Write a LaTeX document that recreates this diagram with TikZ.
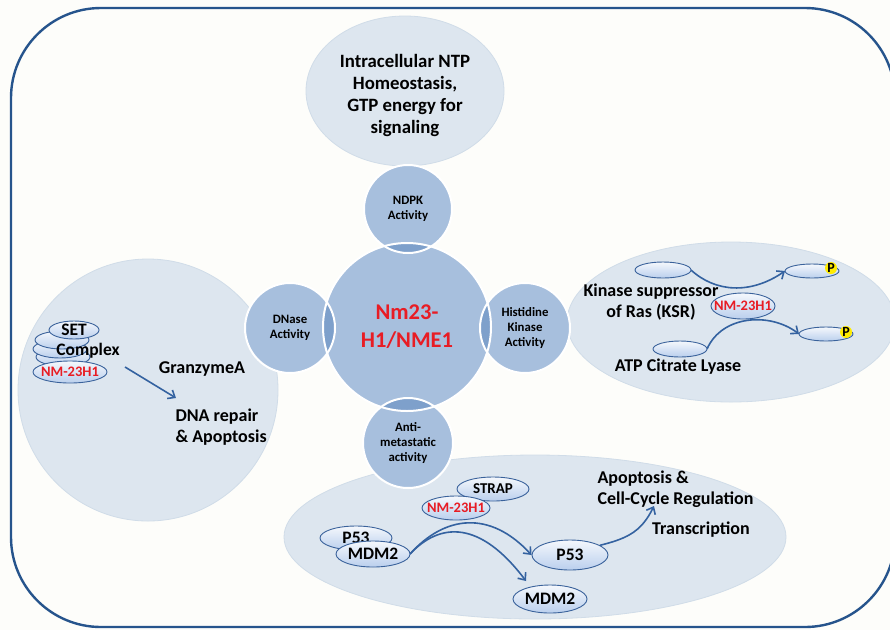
\documentclass[tikz,border=0pt]{standalone}
\usepackage{fontspec}
\setmainfont{Carlito}
\usetikzlibrary{shapes.geometric,arrows.meta}
\definecolor{bgc}{RGB}{253,253,250}
\definecolor{framec}{RGB}{38,84,140}
\definecolor{bigfill}{RGB}{221,230,239}
\definecolor{bigedge}{RGB}{208,220,232}
\definecolor{circfill}{RGB}{167,191,221}
\definecolor{lensc}{RGB}{126,160,203}
\definecolor{molfill}{RGB}{186,207,237}
\definecolor{moledge}{RGB}{58,98,155}
\definecolor{arrowc}{RGB}{52,98,160}
\definecolor{redtxt}{RGB}{232,28,36}
\definecolor{pyellow}{RGB}{255,236,0}
\begin{document}
\begin{tikzpicture}[x=1pt,y=-1pt,
  bigell/.style={fill=bigfill,draw=bigedge,line width=0.8pt},
  act/.style={circle,fill=circfill,inner sep=0pt,align=center,
     font=\bfseries\fontsize{12.8}{15}\selectfont},
  mol/.style={ellipse,draw=moledge,line width=0.9pt,top color=white!85!molfill,bottom color=molfill,inner sep=0pt},
  moltxt/.style={font=\bfseries\fontsize{17.5}{17.5}\selectfont},
  nmtxt/.style={font=\bfseries\fontsize{14.5}{14.5}\selectfont,text=redtxt},
  lbl/.style={font=\bfseries\fontsize{18}{21}\selectfont,align=center},
  conn/.style={draw=arrowc,line width=1.6pt,-{Straight Barb[length=6pt,width=10pt]}},
  pcirc/.style={circle,fill=pyellow,inner sep=0pt,minimum size=12pt,
     font=\bfseries\fontsize{14}{14}\selectfont}]
\useasboundingbox (0,0) rectangle (890,630);
\fill[bgc] (0,0) rectangle (890,630);
\draw[framec,line width=2.4pt,rounded corners=90pt] (11,8) rectangle (895,627);

% big ellipses
\fill[bigell] (405,91) ellipse [x radius=99,y radius=75];
\fill[bigell] (148,390) ellipse [x radius=130,y radius=131];
\fill[bigell] (731,322) ellipse [x radius=164,y radius=80];
\fill[bigell] (535,537) ellipse [x radius=251,y radius=82];

\node[lbl,font=\bfseries\fontsize{18.8}{22}\selectfont] (ntp) at (405,95)
  {Intracellular NTP\\Homeostasis,\\GTP energy for\\signaling};

% central circles
\node[circle,fill=circfill,minimum size=168pt,inner sep=0pt,align=center,
  text=redtxt,font=\bfseries\fontsize{22.5}{28}\selectfont] (core) at (407,327) {Nm23-\\H1/NME1};
\node[act,minimum size=88pt] (ndpk) at (408,209) {NDPK\\Activity};
\node[act,minimum size=90pt] (dnase) at (290,328) {DNase\\Activity};
\node[act,minimum size=90pt] (hist) at (525,328) {Histidine\\Kinase\\Activity};
\node[act,minimum size=90pt] (anti) at (408,443) {Anti-\\metastatic\\activity};
\begin{scope}
  \clip (core.center) circle [radius=84];
  \fill[lensc] (ndpk.center) circle [radius=44];
  \fill[lensc] (dnase.center) circle [radius=45];
  \fill[lensc] (hist.center) circle [radius=45];
  \fill[lensc] (anti.center) circle [radius=45];
\end{scope}
\draw[white,line width=2pt] (core.center) circle [radius=84];
\draw[white,line width=2pt] (ndpk.center) circle [radius=44];
\draw[white,line width=2pt] (dnase.center) circle [radius=45];
\draw[white,line width=2pt] (hist.center) circle [radius=45];
\draw[white,line width=2pt] (anti.center) circle [radius=45];

% left: SET complex
\node[mol,minimum width=54pt,minimum height=18pt] (s3) at (63,357) {};
\node[mol,minimum width=54pt,minimum height=18pt] (s2) at (60,349) {};
\node[mol,minimum width=54pt,minimum height=18pt] (s1) at (62,340) {};
\node[mol,minimum width=50pt,minimum height=18pt,label={[moltxt]center:SET}] (set) at (74,330) {};
\node[moltxt] (cplx) at (88,351) {Complex};
\node[mol,minimum width=74pt,minimum height=22pt,label={[nmtxt]center:NM-23H1}] (lnm) at (70,372) {};
\coordinate (la1) at (125,367);
\coordinate (la2) at (176,398);
\draw[conn] (la1) -- (la2);
\node[lbl] (gzm) at (202,369) {GranzymeA};
\node[lbl,align=left,anchor=west] (dna) at (172,427) {DNA repair\\\& Apoptosis};

% right: KSR / ATP citrate lyase
\draw[conn] (691,270) coordinate (k1e) .. controls (715,292) and (750,295) .. (785,271) coordinate (k1pw);
\draw[conn] (707,349) coordinate (k2e) .. controls (722,315) and (770,312) .. (799,334) coordinate (k2pw);
\node[mol,minimum width=56pt,minimum height=16pt] (k1) at (663,270) {};
\node[mol,minimum width=54pt,minimum height=14pt] (k1p) at (812,271) {};
\node[pcirc] (p1) at (831,268) {P};
\node[mol,minimum width=54pt,minimum height=16pt] (k2) at (680,349) {};
\node[mol,minimum width=54pt,minimum height=14pt] (k2p) at (826,334) {};
\node[pcirc] (p2) at (846,332) {P};
\node[lbl] (ksr) at (651,302) {Kinase suppressor\\of Ras (KSR)};
\node[mol,minimum width=64pt,minimum height=26pt,label={[nmtxt]center:NM-23H1}] (knm) at (743,306) {};
\node[lbl] (acl) at (678,367) {ATP Citrate Lyase};

% bottom: P53 / MDM2
\coordinate (bst) at (410,554);
\coordinate (bend2) at (526,581);
\node[mol,minimum width=76pt,minimum height=30pt] (bp53) at (570,555) {};
\node[mol,minimum width=74pt,minimum height=28pt,label={[moltxt]center:MDM2}] (bmdm2) at (550,599) {};
\draw[conn] (bst) .. controls (445,515) and (490,510) .. (bp53.west);
\draw[conn] (bst) .. controls (440,522) and (480,520) .. (bend2);
\node[moltxt] at (bp53.center) {P53};
\node[mol,minimum width=72pt,minimum height=24pt] (strap) at (493,489) {};
\node[font=\bfseries\fontsize{15}{15}\selectfont] at (strap.center) {STRAP};
\node[mol,minimum width=68pt,minimum height=24pt,label={[nmtxt]center:NM-23H1}] (bnm) at (456,508) {};
\node[mol,minimum width=72pt,minimum height=24pt,label={[moltxt]center:P53}] (bp53a) at (356,538) {};
\node[mol,minimum width=74pt,minimum height=26pt,label={[moltxt]center:MDM2}] (bmdm) at (373,554) {};
\coordinate (tend) at (654,506);
\draw[conn] (bp53.18) .. controls (630,538) and (642,530) .. (tend);
\node[lbl,align=left,anchor=west] (apo) at (594,489) {Apoptosis \&\\Cell-Cycle Regulation};
\node[lbl] (trx) at (701,530) {Transcription};
\end{tikzpicture}
\end{document}
